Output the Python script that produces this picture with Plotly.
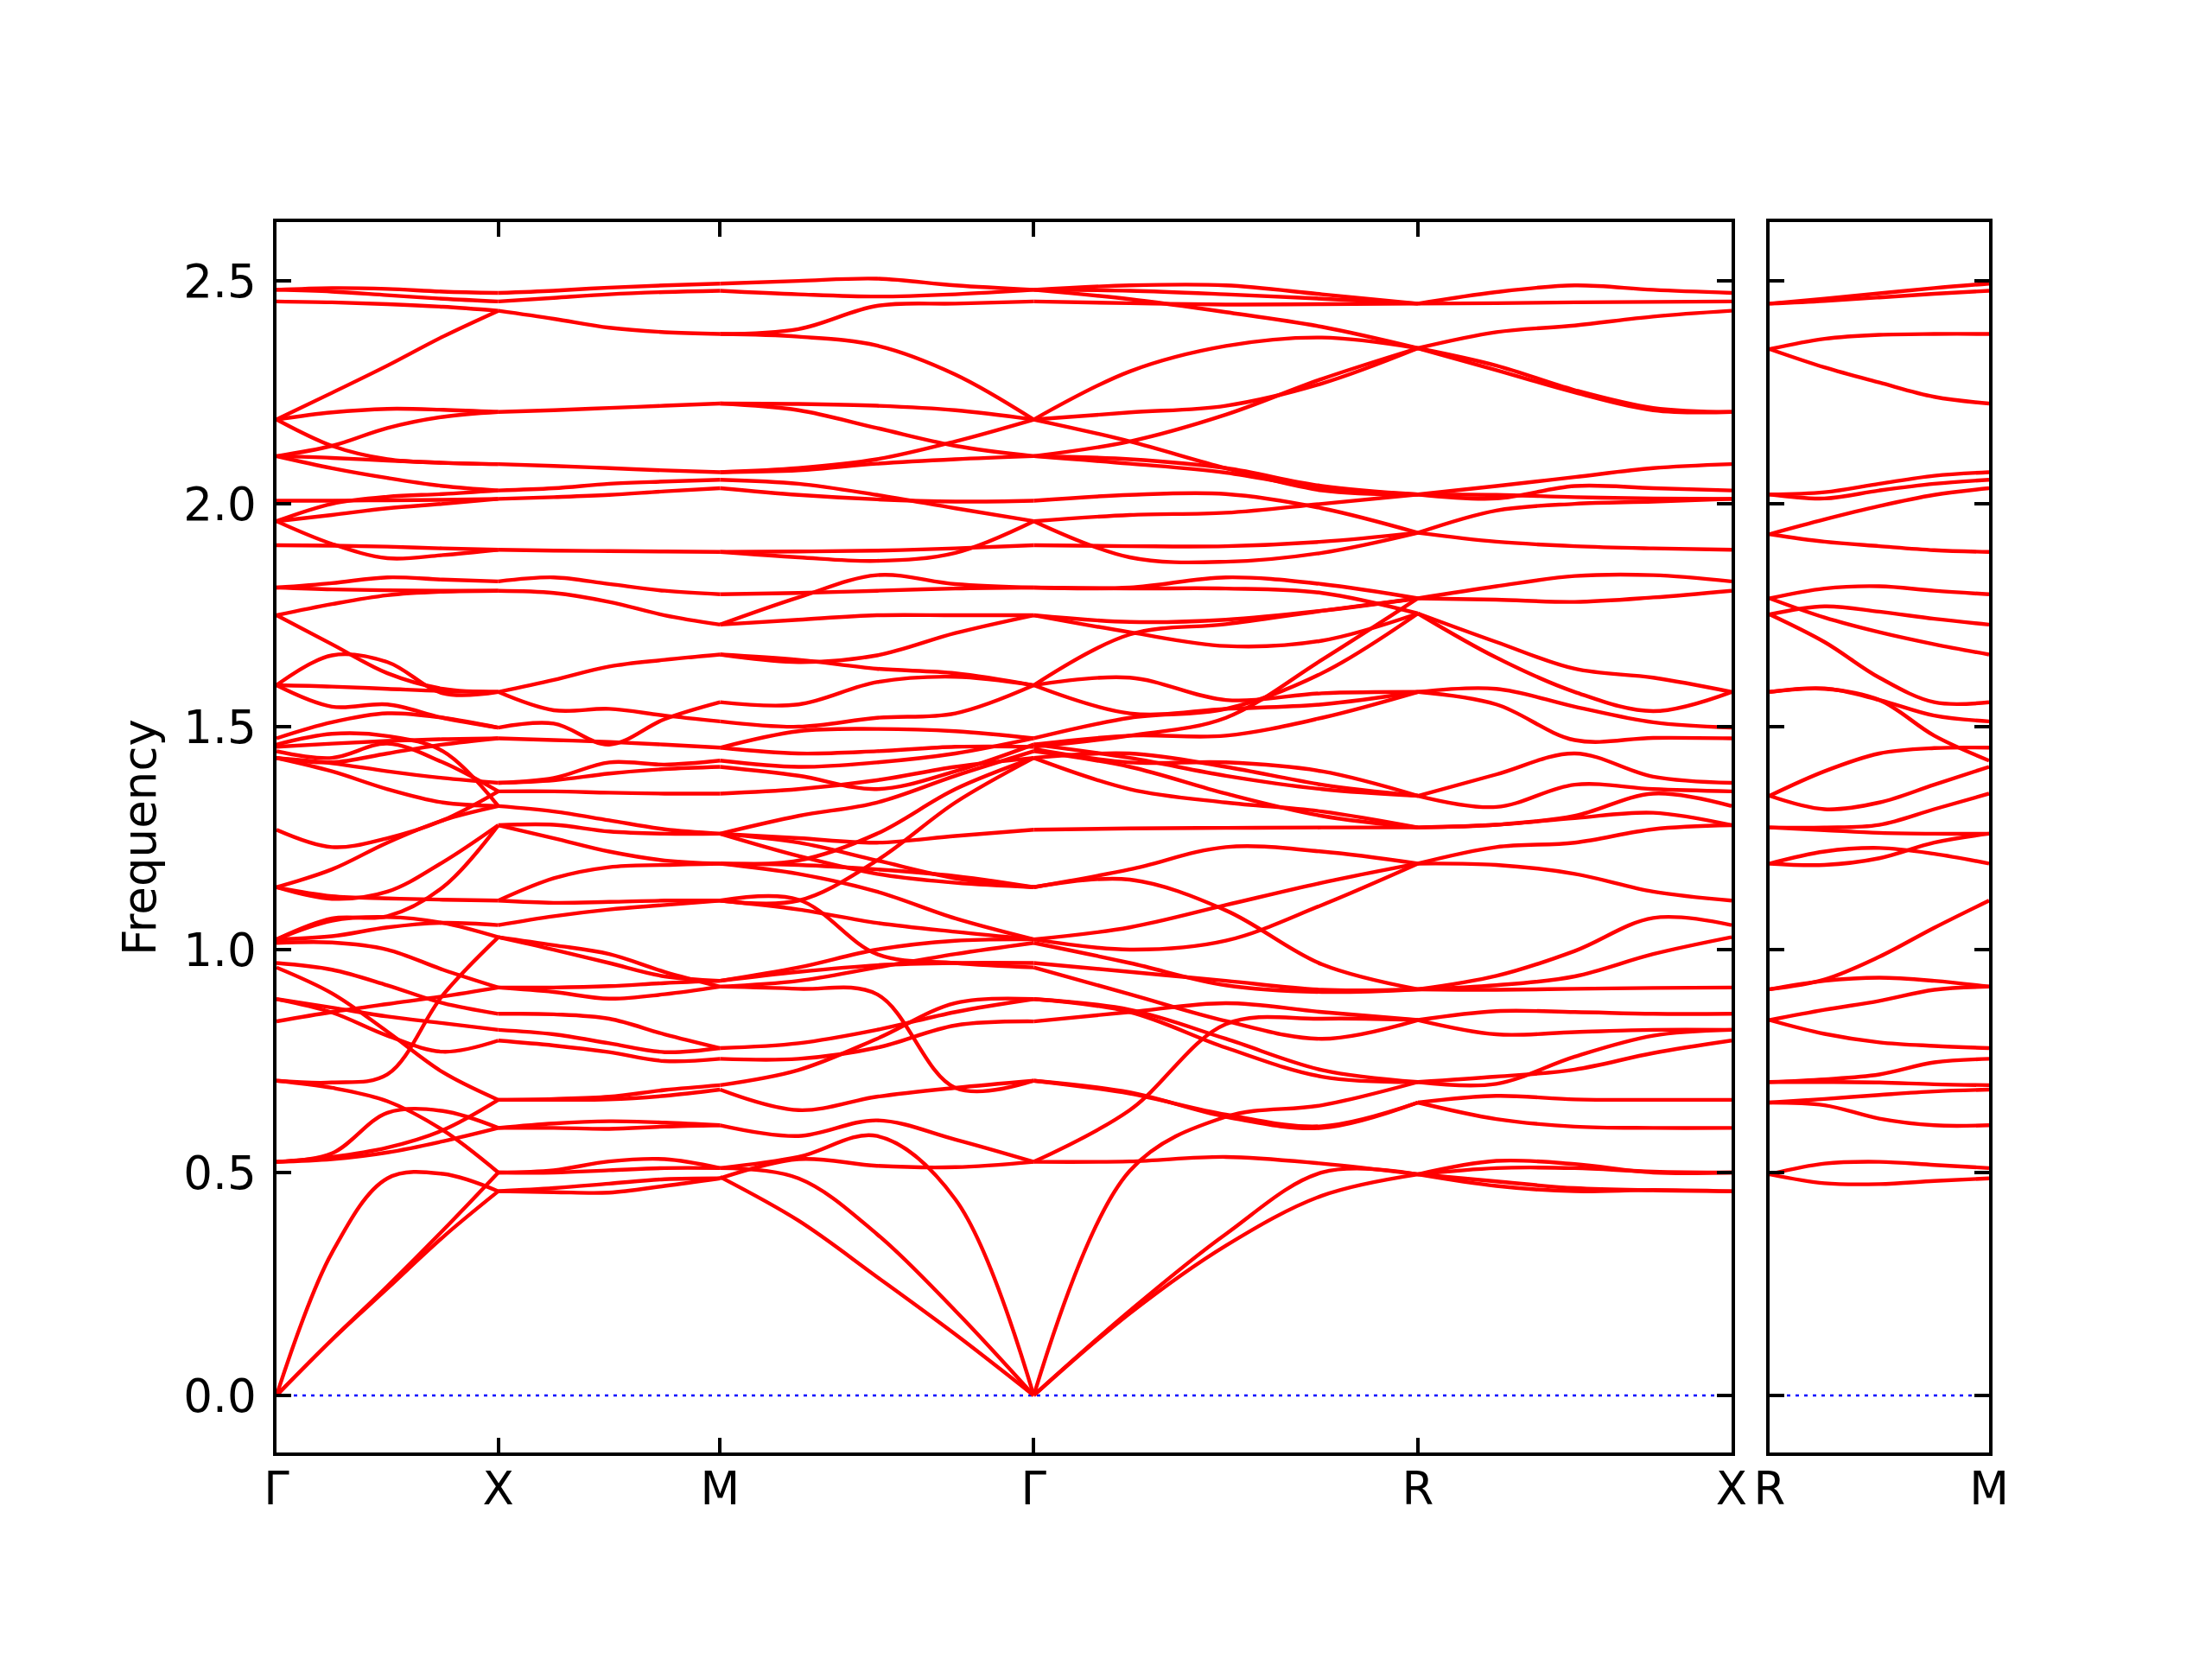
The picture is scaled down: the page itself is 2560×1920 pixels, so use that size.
import math
import plotly.graph_objects as go

# ---------------- data ----------------
# sample positions along every path segment (fraction of the segment)
T = [0.0, 0.25, 0.5, 0.75, 1.0]

labels_main = ["Γ", "X", "M", "Γ", "R", "X"]
seg_lengths_main = [0.5, 0.5, math.sqrt(0.5), math.sqrt(0.75), math.sqrt(0.5)]
labels_side = ["R", "M"]
seg_lengths_side = [0.5]

y_ticks = [0.0, 0.5, 1.0, 1.5, 2.0, 2.5]
y_ticktext = ["0.0", "0.5", "1.0", "1.5", "2.0", "2.5"]

# Γ -> X
seg_GX = [
    [0.000, 0.320, 0.487, 0.497, 0.458],
    [0.000, 0.125, 0.240, 0.355, 0.458],
    [0.000, 0.125, 0.245, 0.370, 0.500],
    [0.524, 0.543, 0.634, 0.638, 0.600],
    [0.524, 0.535, 0.556, 0.595, 0.663],
    [0.524, 0.530, 0.545, 0.570, 0.600],
    [0.706, 0.702, 0.720, 0.898, 1.028],
    [0.706, 0.690, 0.660, 0.595, 0.500],
    [0.839, 0.860, 0.878, 0.895, 0.915],
    [0.889, 0.859, 0.807, 0.771, 0.796],
    [0.889, 0.870, 0.850, 0.835, 0.820],
    [0.960, 0.902, 0.816, 0.725, 0.663],
    [0.970, 0.955, 0.920, 0.880, 0.856],
    [1.015, 1.016, 1.000, 0.955, 0.915],
    [1.023, 1.065, 1.073, 1.060, 1.028],
    [1.023, 1.030, 1.050, 1.060, 1.055],
    [1.023, 1.070, 1.075, 1.140, 1.279],
    [1.140, 1.114, 1.130, 1.196, 1.279],
    [1.140, 1.120, 1.115, 1.112, 1.110],
    [1.140, 1.180, 1.240, 1.290, 1.322],
    [1.269, 1.230, 1.250, 1.290, 1.355],
    [1.430, 1.400, 1.360, 1.330, 1.322],
    [1.430, 1.418, 1.400, 1.385, 1.374],
    [1.430, 1.420, 1.440, 1.460, 1.474],
    [1.445, 1.430, 1.462, 1.420, 1.355],
    [1.460, 1.484, 1.479, 1.445, 1.322],
    [1.455, 1.462, 1.468, 1.472, 1.474],
    [1.474, 1.510, 1.530, 1.520, 1.498],
    [1.593, 1.545, 1.550, 1.520, 1.498],
    [1.593, 1.660, 1.645, 1.575, 1.578],
    [1.593, 1.590, 1.585, 1.580, 1.578],
    [1.750, 1.685, 1.620, 1.585, 1.578],
    [1.750, 1.775, 1.795, 1.803, 1.805],
    [1.812, 1.822, 1.835, 1.830, 1.826],
    [1.812, 1.808, 1.806, 1.805, 1.805],
    [1.907, 1.906, 1.904, 1.900, 1.897],
    [1.961, 1.910, 1.878, 1.885, 1.897],
    [1.961, 1.975, 1.990, 2.000, 2.011],
    [1.961, 2.000, 2.016, 2.022, 2.030],
    [2.007, 2.007, 2.008, 2.009, 2.011],
    [2.107, 2.080, 2.058, 2.040, 2.030],
    [2.107, 2.103, 2.097, 2.092, 2.089],
    [2.107, 2.130, 2.170, 2.195, 2.206],
    [2.189, 2.130, 2.100, 2.092, 2.089],
    [2.189, 2.205, 2.213, 2.211, 2.206],
    [2.189, 2.249, 2.310, 2.375, 2.433],
    [2.454, 2.452, 2.448, 2.442, 2.433],
    [2.480, 2.476, 2.468, 2.460, 2.454],
    [2.480, 2.484, 2.482, 2.476, 2.473],
]

# X -> M
seg_XM = [
    [0.458, 0.456, 0.455, 0.470, 0.487],
    [0.458, 0.465, 0.475, 0.485, 0.487],
    [0.500, 0.505, 0.525, 0.530, 0.510],
    [0.500, 0.500, 0.505, 0.510, 0.510],
    [0.600, 0.600, 0.598, 0.603, 0.606],
    [0.600, 0.610, 0.615, 0.612, 0.606],
    [0.663, 0.663, 0.664, 0.672, 0.686],
    [0.663, 0.665, 0.670, 0.685, 0.696],
    [0.796, 0.785, 0.770, 0.750, 0.755],
    [0.820, 0.810, 0.790, 0.770, 0.779],
    [0.856, 0.855, 0.845, 0.810, 0.779],
    [0.915, 0.905, 0.890, 0.900, 0.917],
    [0.915, 0.915, 0.918, 0.925, 0.930],
    [1.028, 1.000, 0.970, 0.940, 0.930],
    [1.028, 1.010, 0.990, 0.950, 0.917],
    [1.055, 1.075, 1.090, 1.100, 1.110],
    [1.110, 1.160, 1.185, 1.190, 1.193],
    [1.110, 1.105, 1.107, 1.110, 1.110],
    [1.279, 1.280, 1.265, 1.260, 1.260],
    [1.279, 1.250, 1.220, 1.200, 1.193],
    [1.322, 1.310, 1.290, 1.270, 1.260],
    [1.355, 1.355, 1.352, 1.350, 1.350],
    [1.374, 1.385, 1.420, 1.415, 1.424],
    [1.374, 1.380, 1.395, 1.405, 1.410],
    [1.474, 1.470, 1.466, 1.460, 1.453],
    [1.498, 1.507, 1.460, 1.517, 1.555],
    [1.578, 1.537, 1.540, 1.525, 1.512],
    [1.578, 1.605, 1.635, 1.650, 1.662],
    [1.805, 1.800, 1.780, 1.750, 1.729],
    [1.826, 1.835, 1.820, 1.805, 1.797],
    [1.897, 1.895, 1.894, 1.893, 1.892],
    [2.011, 2.015, 2.020, 2.028, 2.035],
    [2.030, 2.035, 2.045, 2.050, 2.054],
    [2.089, 2.085, 2.080, 2.075, 2.071],
    [2.206, 2.210, 2.215, 2.220, 2.225],
    [2.433, 2.415, 2.395, 2.385, 2.381],
    [2.454, 2.462, 2.470, 2.475, 2.478],
    [2.473, 2.478, 2.485, 2.490, 2.494],
]

# M -> Γ
seg_MG = [
    [0.490, 0.392, 0.266, 0.137, 0.000],
    [0.510, 0.487, 0.362, 0.190, 0.000],
    [0.510, 0.535, 0.582, 0.440, 0.000],
    [0.487, 0.530, 0.515, 0.512, 0.524],
    [0.606, 0.582, 0.617, 0.574, 0.524],
    [0.686, 0.640, 0.670, 0.690, 0.706],
    [0.917, 0.912, 0.900, 0.690, 0.706],
    [0.755, 0.755, 0.780, 0.830, 0.839],
    [0.779, 0.790, 0.820, 0.860, 0.889],
    [0.696, 0.730, 0.800, 0.880, 0.889],
    [0.917, 0.930, 0.960, 0.990, 1.015],
    [0.930, 0.950, 0.965, 0.970, 0.970],
    [0.930, 0.960, 1.000, 1.020, 1.023],
    [1.110, 1.112, 0.990, 0.970, 0.960],
    [1.110, 1.090, 1.060, 1.040, 1.023],
    [1.193, 1.170, 1.130, 1.070, 1.023],
    [1.193, 1.190, 1.180, 1.165, 1.140],
    [1.260, 1.210, 1.170, 1.150, 1.140],
    [1.260, 1.240, 1.200, 1.160, 1.140],
    [1.110, 1.110, 1.200, 1.330, 1.430],
    [1.193, 1.200, 1.260, 1.360, 1.430],
    [1.260, 1.300, 1.330, 1.390, 1.445],
    [1.260, 1.250, 1.240, 1.255, 1.269],
    [1.350, 1.360, 1.380, 1.410, 1.430],
    [1.410, 1.390, 1.360, 1.400, 1.460],
    [1.424, 1.410, 1.420, 1.440, 1.474],
    [1.453, 1.490, 1.495, 1.490, 1.474],
    [1.453, 1.440, 1.445, 1.455, 1.455],
    [1.512, 1.500, 1.520, 1.530, 1.593],
    [1.555, 1.550, 1.600, 1.612, 1.593],
    [1.662, 1.650, 1.630, 1.620, 1.593],
    [1.662, 1.645, 1.660, 1.710, 1.750],
    [1.729, 1.740, 1.750, 1.750, 1.750],
    [1.729, 1.790, 1.840, 1.820, 1.812],
    [1.797, 1.800, 1.805, 1.810, 1.812],
    [1.892, 1.893, 1.895, 1.900, 1.907],
    [1.892, 1.880, 1.872, 1.890, 1.961],
    [2.035, 2.020, 2.010, 2.005, 2.007],
    [2.054, 2.045, 2.020, 1.990, 1.961],
    [2.071, 2.075, 2.090, 2.100, 2.107],
    [2.071, 2.080, 2.100, 2.140, 2.189],
    [2.225, 2.210, 2.170, 2.130, 2.107],
    [2.225, 2.224, 2.220, 2.210, 2.189],
    [2.381, 2.375, 2.355, 2.290, 2.189],
    [2.381, 2.392, 2.444, 2.449, 2.454],
    [2.478, 2.470, 2.465, 2.470, 2.480],
    [2.494, 2.500, 2.505, 2.490, 2.480],
]

# Γ -> R
seg_GR = [
    [0.000, 0.504, 0.625, 0.651, 0.703],
    [0.000, 0.184, 0.336, 0.448, 0.496],
    [0.000, 0.190, 0.362, 0.500, 0.496],
    [0.524, 0.525, 0.535, 0.520, 0.496],
    [0.524, 0.640, 0.833, 0.845, 0.842],
    [0.706, 0.677, 0.630, 0.604, 0.657],
    [0.706, 0.680, 0.625, 0.600, 0.657],
    [0.839, 0.860, 0.880, 0.860, 0.842],
    [0.889, 0.865, 0.800, 0.730, 0.703],
    [0.889, 0.860, 0.780, 0.715, 0.703],
    [0.960, 0.900, 0.840, 0.800, 0.842],
    [0.970, 0.950, 0.930, 0.910, 0.911],
    [1.015, 0.970, 0.920, 0.905, 0.911],
    [1.023, 1.050, 1.100, 1.150, 1.193],
    [1.023, 1.000, 1.020, 1.100, 1.193],
    [1.140, 1.157, 1.088, 0.967, 0.911],
    [1.140, 1.180, 1.230, 1.220, 1.193],
    [1.269, 1.272, 1.273, 1.274, 1.274],
    [1.430, 1.360, 1.330, 1.310, 1.274],
    [1.445, 1.410, 1.350, 1.300, 1.274],
    [1.450, 1.420, 1.420, 1.400, 1.345],
    [1.430, 1.440, 1.410, 1.370, 1.345],
    [1.460, 1.430, 1.390, 1.360, 1.345],
    [1.460, 1.480, 1.480, 1.520, 1.578],
    [1.474, 1.520, 1.540, 1.620, 1.754],
    [1.455, 1.480, 1.520, 1.650, 1.788],
    [1.593, 1.610, 1.560, 1.575, 1.578],
    [1.593, 1.530, 1.540, 1.550, 1.578],
    [1.593, 1.707, 1.730, 1.760, 1.788],
    [1.750, 1.712, 1.681, 1.693, 1.754],
    [1.750, 1.735, 1.740, 1.760, 1.788],
    [1.812, 1.810, 1.810, 1.800, 1.754],
    [1.812, 1.812, 1.835, 1.820, 1.788],
    [1.907, 1.905, 1.905, 1.915, 1.935],
    [1.961, 1.880, 1.870, 1.890, 1.935],
    [1.961, 1.975, 1.980, 2.000, 2.021],
    [2.007, 2.020, 2.022, 1.990, 1.935],
    [2.107, 2.100, 2.080, 2.040, 2.021],
    [2.107, 2.090, 2.070, 2.035, 2.021],
    [2.107, 2.140, 2.200, 2.280, 2.349],
    [2.189, 2.140, 2.080, 2.030, 2.021],
    [2.189, 2.205, 2.220, 2.270, 2.349],
    [2.189, 2.297, 2.354, 2.373, 2.349],
    [2.454, 2.450, 2.447, 2.448, 2.449],
    [2.480, 2.459, 2.430, 2.397, 2.349],
    [2.480, 2.478, 2.470, 2.460, 2.449],
    [2.480, 2.490, 2.490, 2.470, 2.449],
]

# R -> X
seg_RX = [
    [0.496, 0.526, 0.519, 0.500, 0.500],
    [0.496, 0.470, 0.458, 0.461, 0.458],
    [0.496, 0.480, 0.465, 0.460, 0.458],
    [0.496, 0.510, 0.510, 0.502, 0.500],
    [0.657, 0.672, 0.664, 0.663, 0.663],
    [0.657, 0.620, 0.603, 0.600, 0.600],
    [0.703, 0.699, 0.760, 0.807, 0.820],
    [0.703, 0.715, 0.731, 0.768, 0.796],
    [0.842, 0.862, 0.860, 0.856, 0.856],
    [0.842, 0.810, 0.815, 0.820, 0.820],
    [0.911, 0.941, 0.997, 1.071, 1.055],
    [0.911, 0.920, 0.940, 0.990, 1.028],
    [0.911, 0.910, 0.912, 0.914, 0.915],
    [1.193, 1.190, 1.170, 1.130, 1.110],
    [1.193, 1.230, 1.240, 1.270, 1.279],
    [1.274, 1.280, 1.295, 1.307, 1.279],
    [1.274, 1.280, 1.300, 1.350, 1.322],
    [1.345, 1.393, 1.440, 1.388, 1.374],
    [1.345, 1.320, 1.370, 1.360, 1.355],
    [1.578, 1.585, 1.545, 1.510, 1.498],
    [1.578, 1.550, 1.470, 1.475, 1.474],
    [1.754, 1.690, 1.630, 1.610, 1.578],
    [1.754, 1.655, 1.578, 1.535, 1.578],
    [1.788, 1.815, 1.838, 1.840, 1.826],
    [1.788, 1.785, 1.780, 1.790, 1.805],
    [1.935, 1.985, 2.000, 2.005, 2.011],
    [1.935, 1.915, 1.905, 1.900, 1.897],
    [2.021, 2.040, 2.060, 2.080, 2.089],
    [2.021, 2.012, 2.040, 2.035, 2.030],
    [2.021, 2.020, 2.015, 2.012, 2.011],
    [2.349, 2.300, 2.250, 2.210, 2.206],
    [2.349, 2.310, 2.255, 2.215, 2.206],
    [2.349, 2.385, 2.400, 2.420, 2.433],
    [2.449, 2.450, 2.452, 2.453, 2.454],
    [2.449, 2.475, 2.490, 2.480, 2.473],
]

# R -> M (second panel)
seg_RM = [
    [0.496, 0.520, 0.524, 0.517, 0.510],
    [0.496, 0.476, 0.474, 0.481, 0.487],
    [0.657, 0.651, 0.621, 0.606, 0.606],
    [0.657, 0.665, 0.674, 0.682, 0.686],
    [0.703, 0.703, 0.702, 0.698, 0.696],
    [0.703, 0.709, 0.720, 0.747, 0.755],
    [0.842, 0.811, 0.792, 0.784, 0.779],
    [0.842, 0.865, 0.885, 0.910, 0.917],
    [0.911, 0.933, 0.984, 1.049, 1.110],
    [0.911, 0.930, 0.937, 0.930, 0.917],
    [1.193, 1.220, 1.228, 1.215, 1.193],
    [1.193, 1.190, 1.205, 1.240, 1.260],
    [1.274, 1.274, 1.280, 1.315, 1.350],
    [1.274, 1.268, 1.262, 1.260, 1.260],
    [1.345, 1.400, 1.440, 1.452, 1.453],
    [1.345, 1.315, 1.330, 1.370, 1.410],
    [1.578, 1.585, 1.560, 1.480, 1.424],
    [1.578, 1.586, 1.560, 1.525, 1.512],
    [1.752, 1.690, 1.610, 1.555, 1.555],
    [1.752, 1.770, 1.758, 1.742, 1.729],
    [1.788, 1.745, 1.712, 1.685, 1.662],
    [1.788, 1.810, 1.815, 1.805, 1.797],
    [1.932, 1.965, 1.995, 2.020, 2.035],
    [1.932, 1.915, 1.905, 1.896, 1.892],
    [2.021, 2.012, 2.030, 2.045, 2.054],
    [2.021, 2.026, 2.045, 2.063, 2.071],
    [2.347, 2.306, 2.272, 2.240, 2.225],
    [2.347, 2.370, 2.379, 2.381, 2.381],
    [2.449, 2.455, 2.463, 2.471, 2.478],
    [2.449, 2.460, 2.472, 2.484, 2.494],
]

main_segments = [seg_GX, seg_XM, seg_MG, seg_GR, seg_RX]
side_segments = [seg_RM]


def build(segments, lengths):
    xs, ys = [], []
    start = 0.0
    ticks = [0.0]
    for seg, length in zip(segments, lengths):
        for curve in seg:
            for t, f in zip(T, curve):
                xs.append(start + t * length)
                ys.append(f)
            xs.append(None)
            ys.append(None)
        start += length
        ticks.append(start)
    return xs, ys, ticks


mx, my, mticks = build(main_segments, seg_lengths_main)
sx, sy, sticks = build(side_segments, seg_lengths_side)

# ---------------- figure ----------------
W, H = 2560, 1920
FONT = "DejaVu Sans"
FS = 53
LW_AX = 3.5
RED = "#ff0000"

fig = go.Figure()

# zero reference lines (blue dotted)
fig.add_trace(go.Scatter(x=[mticks[0], mticks[-1]], y=[0, 0], mode="lines",
                         line=dict(color="#0000ff", width=2.5, dash="4px,6px"),
                         hoverinfo="skip", xaxis="x", yaxis="y"))
fig.add_trace(go.Scatter(x=[sticks[0], sticks[-1]], y=[0, 0], mode="lines",
                         line=dict(color="#0000ff", width=2.5, dash="4px,6px"),
                         hoverinfo="skip", xaxis="x2", yaxis="y2"))

fig.add_trace(go.Scatter(x=mx, y=my, mode="lines", name="bands",
                         line=dict(color=RED, width=4.4, shape="spline", smoothing=1.0),
                         connectgaps=False, xaxis="x", yaxis="y"))
fig.add_trace(go.Scatter(x=sx, y=sy, mode="lines", name="bands R-M",
                         line=dict(color=RED, width=4.4, shape="spline", smoothing=1.0),
                         connectgaps=False, xaxis="x2", yaxis="y2"))

y_dom = [1 - 1681 / H, 1 - 257 / H]
y_rng = [-0.128, 2.632]

common_axis = dict(showline=True, linecolor="black", linewidth=LW_AX, mirror="ticks",
                   ticks="inside", ticklen=17, tickwidth=LW_AX, tickcolor="black",
                   showgrid=False, zeroline=False, automargin=False,
                   tickfont=dict(family=FONT, size=FS, color="black"))

fig.update_layout(
    width=W, height=H,
    margin=dict(l=0, r=0, t=0, b=0),
    paper_bgcolor="white", plot_bgcolor="white",
    showlegend=False,
    font=dict(family=FONT, size=FS, color="black"),
    xaxis=dict(domain=[320 / W, 2004 / W], range=[mticks[0], mticks[-1]],
               tickmode="array", tickvals=mticks, ticktext=labels_main,
               anchor="y", ticklabelstandoff=-7, **common_axis),
    yaxis=dict(domain=y_dom, range=y_rng, tickmode="array",
               tickvals=y_ticks, ticktext=y_ticktext, anchor="x",
               ticklabelstandoff=9,
               title=dict(text="Frequency", font=dict(family=FONT, size=FS, color="black"),
                          standoff=16),
               **common_axis),
    xaxis2=dict(domain=[2048 / W, 2302 / W], range=[sticks[0], sticks[-1]],
                tickmode="array", tickvals=sticks, ticktext=labels_side,
                anchor="y2", ticklabelstandoff=-7, **common_axis),
    yaxis2=dict(domain=y_dom, range=y_rng, tickmode="array", tickvals=y_ticks,
                showticklabels=False, anchor="x2", matches="y", **common_axis),
)

fig.write_html("out.html", config={"displayModeBar": False},
               post_script="document.body.style.margin='0px';")
